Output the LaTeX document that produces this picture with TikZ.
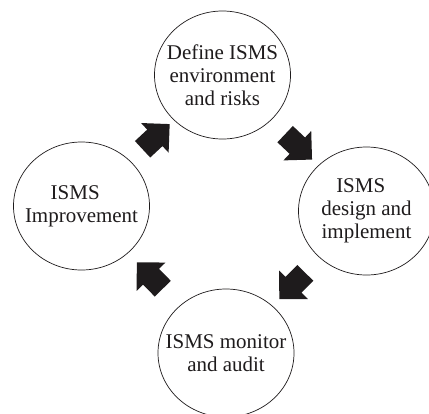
\documentclass[tikz,border=0pt]{standalone}
\usepackage{fontspec}
\setmainfont{Liberation Serif}
\usepackage{xcolor}
\usetikzlibrary{shapes.geometric,shapes.arrows}
\definecolor{ink}{HTML}{1E1B1C}
\tikzset{
  stage/.style={ellipse, draw=ink, line width=0.6pt, minimum width=4.08cm,
    minimum height=3.84cm, inner xsep=-0.45cm, inner ysep=0pt, align=center,
    text=ink, font=\fontsize{17.9}{19.6}\selectfont},
  flow/.style={single arrow, fill=ink, draw=none, inner xsep=0pt,
    inner ysep=0.33cm, single arrow tip angle=90,
    single arrow head extend=0.27cm, minimum height=1.11cm,
    sloped, allow upside down}
}

\begin{document}
\begin{tikzpicture}[x=0.03cm, y=-0.03cm]
  \useasboundingbox (0,0) rectangle (429,413);

  \node[stage] (def) at (222.5,75) {Define ISMS\\environment\\and risks};
  \node[stage] (des) at (366.5,211) {ISMS\hspace*{.55em}\\design and\\implement};
  \node[stage] (mon) at (226,353) {ISMS monitor\\and audit};
  \node[stage] (imp) at (81.5,206) {ISMS\hspace*{.6em}\\Improvement};

  \path (imp) -- node[flow]{} (def);
  \path (def) -- node[flow]{} (des);
  \path (des) -- node[flow]{} (mon);
  \path (mon) -- node[flow]{} (imp);
\end{tikzpicture}
\end{document}
